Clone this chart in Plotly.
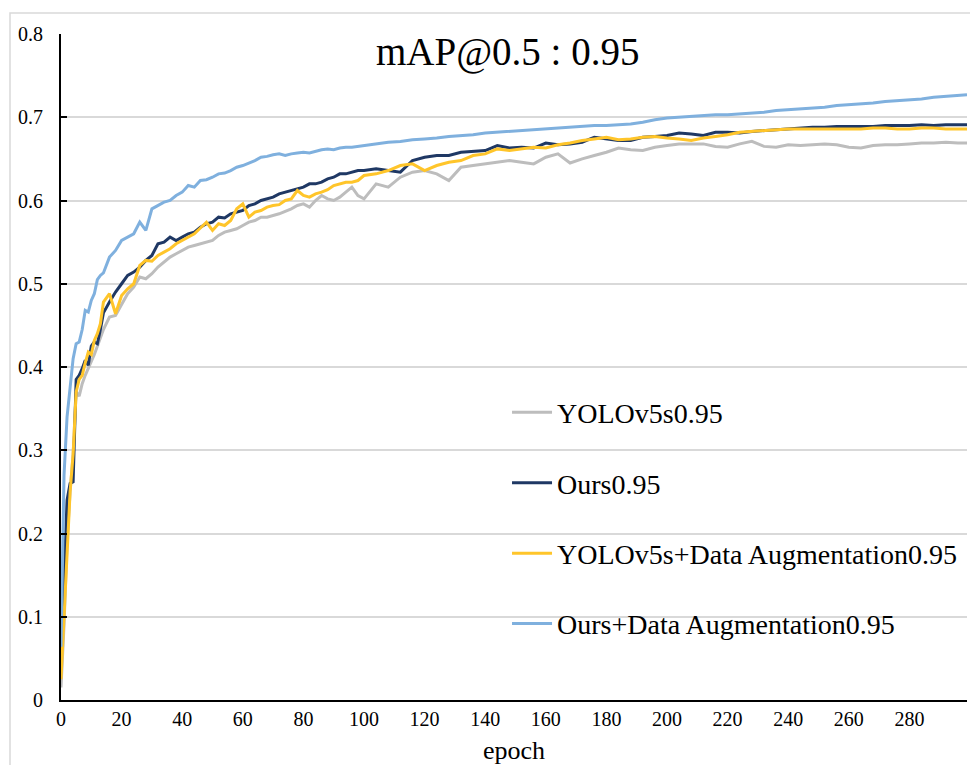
import plotly.graph_objects as go

# ---------------- data ----------------
epochs = list(range(0, 15)) + list(range(16, 101, 2)) + list(range(104, 297, 4)) + [299]

yolov5s = [0.015, 0.09, 0.19, 0.25, 0.295, 0.37, 0.365, 0.38, 0.39, 0.398, 0.408, 0.415, 0.425, 0.436, 0.445,
           0.46, 0.462, 0.475, 0.488, 0.496, 0.508, 0.506, 0.512, 0.52, 0.526, 0.532, 0.536, 0.54, 0.544, 0.546,
           0.548, 0.55, 0.552, 0.558, 0.562, 0.564, 0.566, 0.57, 0.574, 0.576, 0.58, 0.58, 0.582, 0.584, 0.587,
           0.59, 0.594, 0.596, 0.592, 0.6, 0.606, 0.602, 0.6, 0.604, 0.61, 0.616, 0.606, 0.602,
           0.62, 0.616, 0.628, 0.634, 0.636, 0.632, 0.624, 0.64, 0.642, 0.644, 0.646, 0.648, 0.646, 0.644,
           0.652, 0.656, 0.645, 0.65, 0.654, 0.658, 0.663, 0.661, 0.66, 0.664, 0.666, 0.668, 0.668, 0.668,
           0.665, 0.664, 0.668, 0.671, 0.665, 0.664, 0.667, 0.666, 0.667, 0.668, 0.667, 0.664, 0.663, 0.666,
           0.667, 0.667, 0.668, 0.669, 0.669, 0.670, 0.669, 0.669]

ours = [0.05, 0.15, 0.24, 0.26, 0.262, 0.385, 0.39, 0.398, 0.408, 0.402, 0.425, 0.43, 0.428, 0.445, 0.465,
        0.478, 0.49, 0.5, 0.51, 0.514, 0.52, 0.528, 0.534, 0.548, 0.55, 0.556, 0.552, 0.556, 0.56, 0.562,
        0.568, 0.572, 0.574, 0.58, 0.579, 0.584, 0.586, 0.588, 0.594, 0.596, 0.6, 0.602, 0.604, 0.608, 0.61,
        0.612, 0.614, 0.616, 0.62, 0.62, 0.622, 0.626, 0.628, 0.632, 0.632, 0.634, 0.636, 0.636,
        0.638, 0.636, 0.634, 0.648, 0.652, 0.654, 0.654, 0.658, 0.659, 0.66, 0.666, 0.663, 0.664, 0.663,
        0.669, 0.667, 0.668, 0.670, 0.676, 0.674, 0.672, 0.672, 0.676, 0.677, 0.678, 0.681, 0.68, 0.678,
        0.682, 0.682, 0.681, 0.683, 0.684, 0.685, 0.686, 0.687, 0.688, 0.688, 0.689, 0.689, 0.689, 0.689,
        0.690, 0.690, 0.690, 0.691, 0.690, 0.691, 0.691, 0.691]

yolov5s_da = [0.025, 0.1, 0.19, 0.25, 0.295, 0.37, 0.385, 0.39, 0.405, 0.418, 0.415, 0.432, 0.44, 0.452, 0.478,
              0.488, 0.464, 0.486, 0.494, 0.5, 0.522, 0.528, 0.527, 0.534, 0.538, 0.542, 0.548, 0.552, 0.556, 0.56,
              0.567, 0.574, 0.564, 0.572, 0.57, 0.576, 0.59, 0.596, 0.58, 0.586, 0.588, 0.592, 0.594, 0.595, 0.6,
              0.602, 0.612, 0.606, 0.604, 0.608, 0.61, 0.613, 0.618, 0.62, 0.622, 0.622, 0.624, 0.63,
              0.632, 0.636, 0.642, 0.644, 0.636, 0.642, 0.646, 0.648, 0.654, 0.656, 0.662, 0.66, 0.662, 0.664,
              0.663, 0.667, 0.669, 0.672, 0.674, 0.676, 0.673, 0.674, 0.676, 0.677, 0.675, 0.674, 0.672, 0.675,
              0.677, 0.679, 0.682, 0.683, 0.684, 0.685, 0.686, 0.686, 0.686, 0.686, 0.686, 0.686, 0.686, 0.687,
              0.687, 0.686, 0.686, 0.687, 0.687, 0.686, 0.686, 0.686]

ours_da = [0.064, 0.27, 0.34, 0.375, 0.41, 0.428, 0.43, 0.445, 0.468, 0.466, 0.48, 0.488, 0.505, 0.51, 0.513,
           0.532, 0.54, 0.552, 0.556, 0.56, 0.574, 0.564, 0.59, 0.594, 0.598, 0.6, 0.606, 0.61, 0.618, 0.616,
           0.624, 0.625, 0.628, 0.632, 0.633, 0.636, 0.64, 0.642, 0.645, 0.648, 0.652, 0.653, 0.655, 0.656, 0.654,
           0.656, 0.657, 0.658, 0.657, 0.659, 0.661, 0.662, 0.661, 0.663, 0.664, 0.664, 0.665, 0.666,
           0.668, 0.670, 0.671, 0.673, 0.674, 0.675, 0.677, 0.678, 0.679, 0.681, 0.682, 0.683, 0.684, 0.685,
           0.686, 0.687, 0.688, 0.689, 0.690, 0.690, 0.691, 0.692, 0.694, 0.697, 0.699, 0.700, 0.701, 0.702,
           0.703, 0.703, 0.704, 0.705, 0.706, 0.708, 0.709, 0.710, 0.711, 0.712, 0.714, 0.715, 0.716, 0.717,
           0.719, 0.720, 0.721, 0.722, 0.724, 0.725, 0.726, 0.727]

series_names = ["YOLOv5s0.95", "Ours0.95", "YOLOv5s+Data Augmentation0.95", "Ours+Data Augmentation0.95"]
series_values = [yolov5s, ours, yolov5s_da, ours_da]
series_colors = ["#BDBDBD", "#1F3864", "#FFC52A", "#7FB0DE"]

x_ticks = list(range(0, 281, 20))
y_ticks = [0, 0.1, 0.2, 0.3, 0.4, 0.5, 0.6, 0.7, 0.8]
y_tick_text = ["0", "0.1", "0.2", "0.3", "0.4", "0.5", "0.6", "0.7", "0.8"]
title_text = "mAP@0.5 : 0.95"
x_title = "epoch"

FONT = "Liberation Serif"

fig = go.Figure()
for i, (name, vals, col) in enumerate(zip(series_names, series_values, series_colors)):
    fig.add_trace(go.Scatter(
        x=epochs, y=vals, mode="lines", name=name,
        line=dict(color=col, width=3),
        legendgroup=f"g{i}",
    ))

fig.update_layout(
    width=970, height=757,
    margin=dict(l=53, r=11, t=26, b=65, autoexpand=False),
    paper_bgcolor="white", plot_bgcolor="white",
    font=dict(family=FONT, color="#000000"),
    showlegend=True,
    legend=dict(
        x=0.4923, y=0.469, xanchor="left", yanchor="top",
        font=dict(family=FONT, size=28, color="#000000"),
        bgcolor="rgba(0,0,0,0)", borderwidth=0,
        tracegroupgap=31, itemwidth=40,
    ),
    xaxis=dict(
        range=[0, 299], tickvals=x_ticks, showgrid=False,
        showline=True, linecolor="black", linewidth=2,
        ticks="", zeroline=False, automargin=False,
        tickfont=dict(family=FONT, size=20, color="#000000"),
        ticklabelstandoff=0,
        title=dict(text=x_title, font=dict(family=FONT, size=26, color="#000000"), standoff=24),
    ),
    yaxis=dict(
        range=[0, 0.8], tickvals=y_ticks, ticktext=y_tick_text,
        showgrid=True, gridcolor="#D9D9D9", gridwidth=1.5,
        showline=True, linecolor="black", linewidth=2,
        ticks="inside", ticklen=6, tickwidth=2, tickcolor="black",
        zeroline=False, automargin=False,
        tickfont=dict(family=FONT, size=20, color="#000000"),
        ticklabelstandoff=12,
    ),
    annotations=[dict(
        text=title_text, xref="paper", yref="paper", x=0.493, y=0.973,
        xanchor="center", yanchor="middle", showarrow=False,
        font=dict(family=FONT, size=39, color="#000000"),
    )],
    shapes=[dict(
        type="rect", xref="paper", yref="paper",
        x0=-0.0563, y0=-0.135, x1=1.03, y1=1.0315,
        line=dict(color="#D9D9D9", width=1.5), fillcolor="rgba(0,0,0,0)", layer="below",
    )],
)

fig.write_html("out.html")
